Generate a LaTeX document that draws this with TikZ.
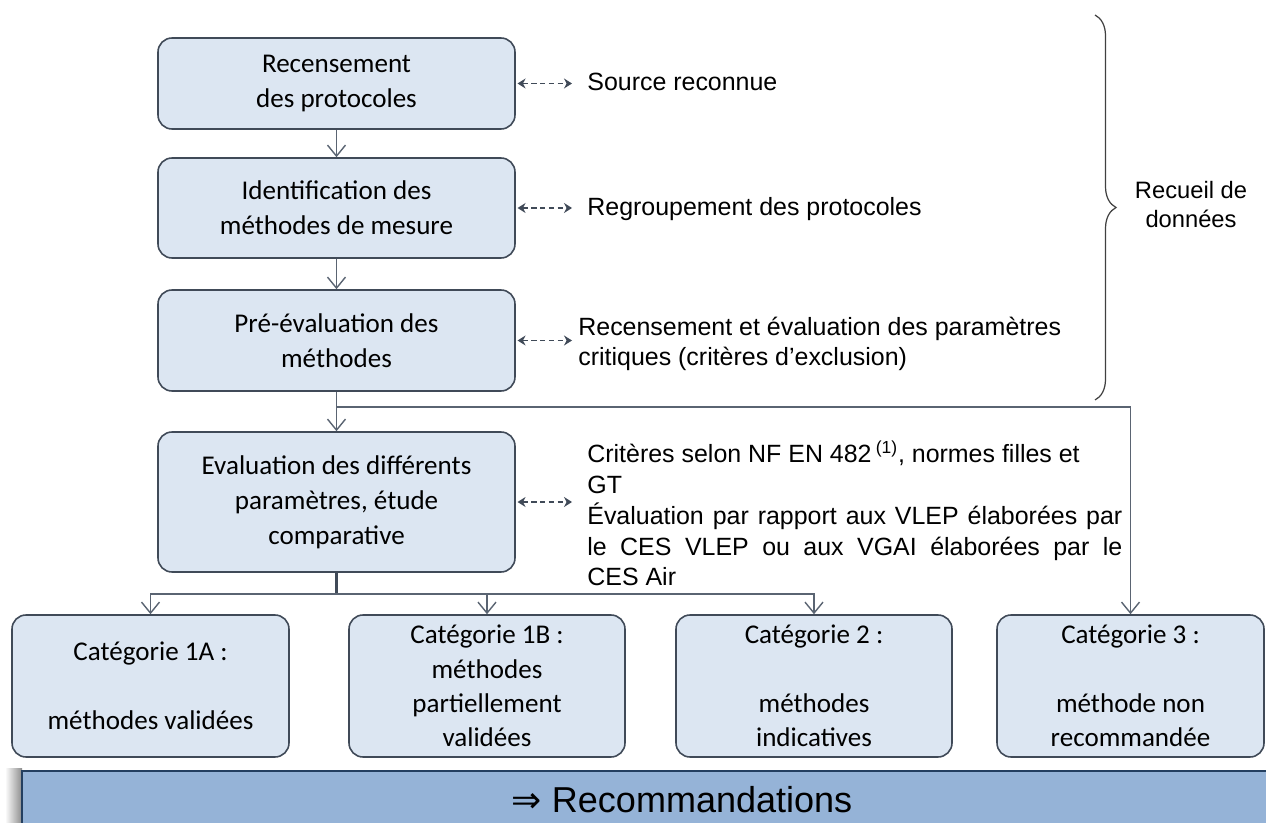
\documentclass[tikz,border=0pt]{standalone}
\usepackage{fontspec}
\setmainfont{Carlito}
\newfontfamily\arialfont{Liberation Sans}
\newfontfamily\symfont{DejaVu Sans}
\definecolor{BOXFILL}{HTML}{DCE6F2}
\definecolor{BOXLINE}{HTML}{404A58}
\definecolor{LINKGRAY}{HTML}{5A6472}
\definecolor{BARFILL}{HTML}{95B3D7}
\definecolor{BARLINE}{HTML}{243F60}
\usetikzlibrary{calc,positioning,arrows.meta,decorations.pathreplacing}

\begin{document}
\begin{tikzpicture}[
  pbox/.style={draw=BOXLINE, fill=BOXFILL, rectangle, rounded corners=8pt, line width=0.9pt,
    minimum width=7.14cm, align=center, font=\fontsize{15.4}{20}\selectfont},
  cbox/.style={draw=BOXLINE, fill=BOXFILL, rectangle, rounded corners=8pt, line width=0.9pt,
    minimum height=2.84cm, align=center, font=\fontsize{15.4}{19.5}\selectfont},
  ntxt/.style={anchor=west, inner sep=0pt, align=left,
    font=\arialfont\fontsize{14.2}{17.5}\selectfont},
  arr/.style={-{Straight Barb[length=2.2mm,width=3.6mm]}, line width=0.8pt, LINKGRAY},
  darr/.style={{Stealth[length=1.6mm,width=2mm]}-{Stealth[length=1.6mm,width=2mm]},
    dashed, dash pattern=on 3pt off 2pt, line width=0.7pt, BOXLINE}
]
\useasboundingbox (0,0) rectangle (25.32,-16.46);

\node[pbox, minimum height=1.82cm] (recens)  at (6.73, -1.67)  {Recensement\\des protocoles};
\node[pbox, minimum height=2.00cm] (ident)   at (6.73, -4.16)  {Identification des\\méthodes de mesure};
\node[pbox, minimum height=2.02cm] (preeval) at (6.73, -6.81)  {Pré-évaluation des\\méthodes};
\node[pbox, minimum height=2.80cm] (evalu)   at (6.73, -10.04) {Evaluation des différents\\paramètres, étude\\comparative};

\node[cbox, minimum width=5.54cm] (cat1a)    at ( 3.01, -13.72) {Catégorie 1A :\\\mbox{}\\méthodes validées};
\node[cbox, minimum width=5.52cm] (cat1b)    at ( 9.74, -13.72) {Catégorie 1B :\\méthodes\\partiellement\\validées};
\node[cbox, minimum width=5.52cm] (cattwo)   at (16.28, -13.72) {Catégorie 2 :\\\mbox{}\\méthodes\\indicatives};
\node[cbox, minimum width=5.34cm] (catthree) at (22.61, -13.72) {Catégorie 3 :\\\mbox{}\\méthode non\\recommandée};

% notes on the right
\node[ntxt] (src)   at (11.74, -1.64)  {Source reconnue};
\node[ntxt] (regr)  at (11.74, -4.18)  {Regroupement des protocoles};
\node[ntxt] (crit)  at (11.56, -6.88)  {Recensement et évaluation des paramètres\\critiques (critères d’exclusion)};
\node[ntxt] (norme) at (11.74, -10.27) {Critères selon NF EN 482\,\textsuperscript{(1)}, normes filles et\\GT\\
  \makebox[10.7cm][s]{Évaluation par rapport aux VLEP élaborées par}\\
  \makebox[10.7cm][s]{le CES VLEP ou aux VGAI élaborées par le}\\CES Air};

\draw[darr] ([xshift=1pt]recens.east)  -- ([xshift=-0.3cm]recens.east -| src.west);
\draw[darr] ([xshift=1pt]ident.east)   -- ([xshift=-0.3cm]ident.east -| regr.west);
\draw[darr] ([xshift=1pt]preeval.east) -- ([xshift=-0.12cm]preeval.east -| crit.west);
\draw[darr] ([xshift=1pt]evalu.east)   -- ([xshift=-0.3cm]evalu.east -| norme.west);

% main flow
\coordinate (split) at (6.73, -8.14);
\coordinate (bus)   at (6.73, -11.88);
\draw[arr] (recens) -- (ident);
\draw[arr] (ident)  -- (preeval);
\draw[arr] (preeval) -- (evalu);
\draw[arr] (split) -| (catthree);
\draw[line width=1.4pt, BOXLINE] (evalu) -- (bus);
\draw[arr] (bus) -| (cat1a);
\draw[arr] (bus) -| (cat1b);
\draw[arr] (bus) -| (cattwo);

% brace
\draw[decorate, decoration={brace, amplitude=0.42cm}, line width=0.7pt, black!75]
  (21.9, -0.30) -- (21.9, -8.00);
\node[font=\arialfont\fontsize{13.5}{16.5}\selectfont, align=center] (recueil)
  at (23.82, -4.10) {Recueil de\\données};

% bottom bar
\shade[left color=white, right color=black!45] (0.10, -15.36) rectangle (0.44, -16.7);
\draw[draw=BARLINE, fill=BARFILL, line width=0.9pt] (0.44, -15.42) rectangle (25.6, -16.8);
\node[font=\arialfont\fontsize{20.5}{24}\selectfont, inner sep=0pt] (reco) at (13.64, -16.0)
  {{\symfont ⇒} Recommandations};
\end{tikzpicture}
\end{document}
